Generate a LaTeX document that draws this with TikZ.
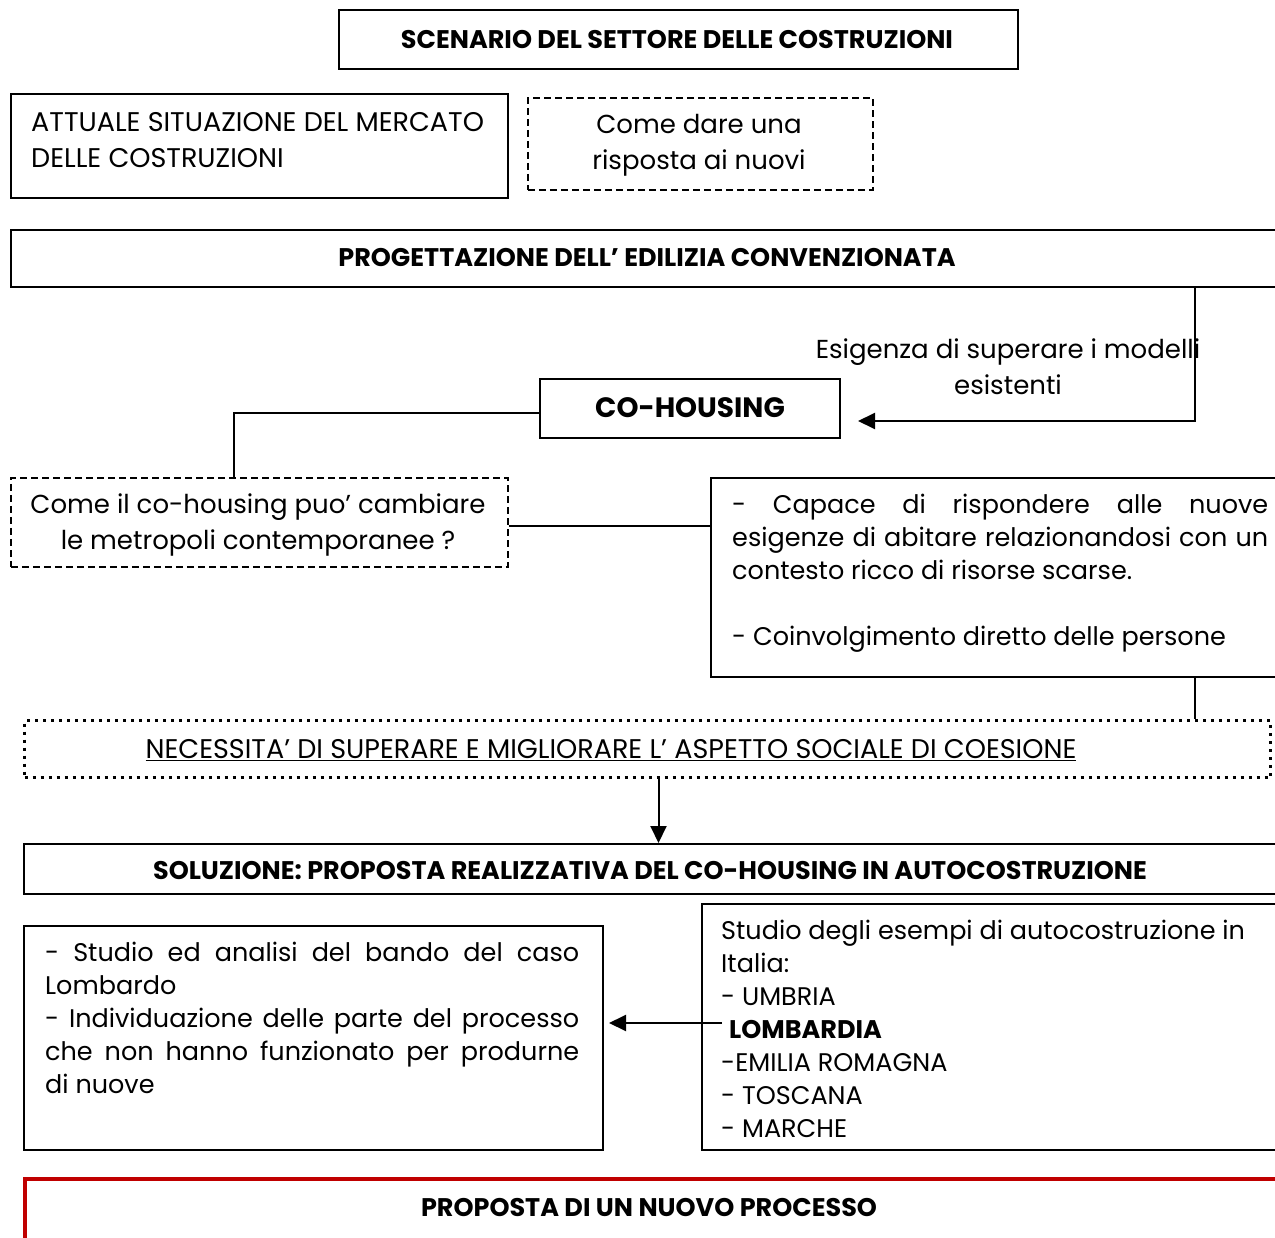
\documentclass[tikz,border=0pt]{standalone}
\usepackage{fontspec}
\setmainfont{Poppins}
\usetikzlibrary{arrows.meta,calc}
\definecolor{redline}{HTML}{C00000}
\newcommand{\regtext}{\fontsize{26}{36}\selectfont}
\newcommand{\paratext}{\fontsize{25.5}{33}\selectfont}
\newcommand{\capstext}{\fontsize{27}{36}\selectfont}
\newcommand{\boldtext}{\fontsize{25.5}{30}\selectfont\bfseries}
\newcommand{\bigbold}{\fontsize{28}{32}\selectfont\bfseries}
\hyphenpenalty=10000
\exhyphenpenalty=10000

\begin{document}
\begin{tikzpicture}[x=1pt,y=-1pt,
  box/.style={draw, line width=2pt, inner sep=0pt, anchor=north west},
  dashbox/.style={box, line width=1.6pt, dash pattern=on 7pt off 4pt},
  dotbox/.style={box, line width=3pt, dash pattern=on 3pt off 5pt},
  redbox/.style={box, draw=redline, line width=4pt},
  link/.style={line width=2pt},
  arr/.style={line width=2pt, -{Triangle[length=17pt,width=16pt]}},
  txt/.style={inner sep=0pt, font=\regtext},
  ctxt/.style={inner sep=0pt, font=\capstext},
  btxt/.style={inner sep=0pt, font=\boldtext},
  para/.style={inner sep=0pt, font=\paratext, anchor=north west, align=justify}
]
\useasboundingbox (0,0) rectangle (1275,1238);

% boxes
\node[box, minimum width=679pt, minimum height=59pt] (scen) at (338,9) {};
\node[box, minimum width=497pt, minimum height=104pt] (att) at (10,93) {};
\node[dashbox, minimum width=345pt, minimum height=92pt] (come) at (527,97) {};
\node[box, minimum width=1300pt, minimum height=57pt] (prog) at (10,229) {};
\node[box, minimum width=300pt, minimum height=59pt] (coh) at (539,378) {};
\node[dashbox, minimum width=497pt, minimum height=89pt] (quest) at (10,477) {};
\node[box, minimum width=600pt, minimum height=199pt] (cap) at (710,477) {};
\node[dotbox, minimum width=1246pt, minimum height=57pt] (nec) at (23,719) {};
\node[box, minimum width=1300pt, minimum height=50pt] (sol) at (23,843) {};
\node[box, minimum width=579pt, minimum height=224pt] (lft) at (23,925) {};
\node[box, minimum width=600pt, minimum height=246pt] (rgt) at (701,903) {};
\node[redbox, minimum width=1300pt, minimum height=200pt] (red) at (23,1177) {};

% texts
\node[btxt] (scenT) at (677,40) {SCENARIO DEL SETTORE DELLE COSTRUZIONI};
\node[ctxt, anchor=west, align=left] (attT) at (31,140) {ATTUALE SITUAZIONE DEL MERCATO\\DELLE COSTRUZIONI};
\node[txt, align=center] (comeT) at (699,145) {Come dare una\\risposta ai nuovi};
\node[btxt] (progT) at (647,258) {PROGETTAZIONE DELL’ EDILIZIA CONVENZIONATA};
\node[inner sep=0pt, font=\bigbold] (cohT) at (690,408) {CO-HOUSING};
\node[txt, align=center] (esig) at (1008,367) {Esigenza di superare i modelli\\esistenti};
\node[txt, align=center] (questT) at (258,525) {Come il co-housing puo’ cambiare\\le metropoli contemporanee ?};
\node[para, text width=536pt] (capT) at (732,494) {- Capace di rispondere alle nuove\linebreak esigenze di abitare relazionandosi con un\linebreak contesto ricco di risorse scarse.\par\vspace{33pt}- Coinvolgimento diretto delle persone};
\node[ctxt] (necT) at (611,750) {\underline{NECESSITA’ DI SUPERARE E MIGLIORARE L’ ASPETTO SOCIALE DI COESIONE}};
\node[btxt] (solT) at (650,871) {SOLUZIONE: PROPOSTA REALIZZATIVA DEL CO-HOUSING IN AUTOCOSTRUZIONE};
\node[para, text width=534pt] (lftT) at (45,942) {- Studio ed analisi del bando del caso\linebreak Lombardo\\- Individuazione delle parte del processo\linebreak che non hanno funzionato per produrne\linebreak di nuove};
\node[inner sep=0pt, font=\paratext, anchor=north west, align=left] (rgtT) at (721,920) {Studio degli esempi di autocostruzione in\\Italia:\\- UMBRIA\\\hspace*{8pt}\textbf{LOMBARDIA}\\-EMILIA ROMAGNA\\- TOSCANA\\- MARCHE};
\node[btxt] (redT) at (649,1208) {PROPOSTA DI UN NUOVO PROCESSO};

% connectors
\coordinate (cohIn) at (858,421);
\draw[arr] ([xshift=-117pt]prog.south east) |- (cohIn);
\draw[link] ([yshift=-5pt]coh.west) -| ([xshift=-25pt]quest.north);
\draw[link] ([yshift=-4pt]quest.east) -- ([yshift=-4pt]quest.east -| cap.west);
\draw[link] ([xshift=-117pt]cap.south east) -- ([xshift=-117pt]cap.south east |- nec.north);
\draw[arr] ([xshift=11pt]nec.south) -- ([xshift=11pt]nec.south |- sol.north);
\coordinate (rgtOut) at (722,1023);
\draw[arr] (rgtOut) -- ([xshift=5pt]rgtOut -| lft.east);
\end{tikzpicture}
\end{document}
